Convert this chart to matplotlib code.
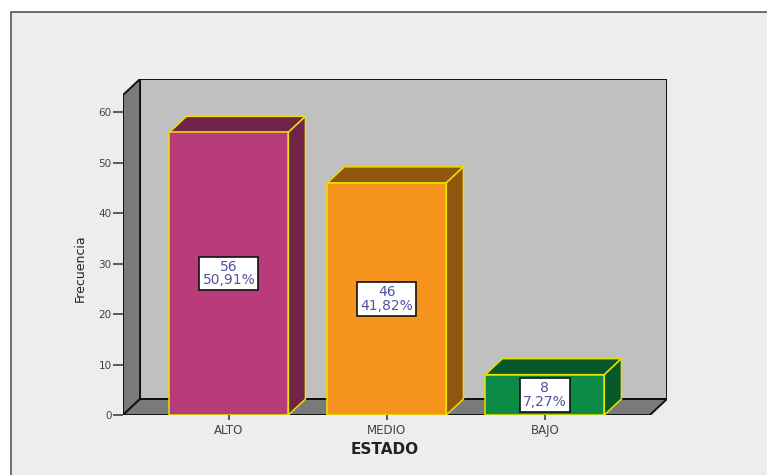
import matplotlib.pyplot as plt
from matplotlib.patches import Polygon, Rectangle

plt.rcParams['font.family'] = ['DejaVu Sans']

estados = ['ALTO', 'MEDIO', 'BAJO']
frecuencias = [56, 46, 8]
colores = ['#B83C7A', '#F7941E', '#0B8B45']
colores_lado = ['#722448', '#90560F', '#07592A']

total = sum(frecuencias)
x = list(range(len(estados)))
ancho = 0.753
dx, dy = 0.108, 3.17          # desplazamiento para el efecto 3D
x0, x1, ytop = -0.67, 2.665, 63.4

fig = plt.figure(figsize=(7.67, 4.75), dpi=100)
fig.patch.set_facecolor('white')
# recuadro gris del visor
fig.add_artist(Rectangle((11 / 767, -0.1), 1.2, 1.1 - 12 / 475,
                         transform=fig.transFigure, facecolor='#EDEDED',
                         edgecolor='#555555', lw=1.2, zorder=-5))

ax = fig.add_axes([123 / 767, 60 / 475, 544 / 767, 336 / 475])
ax.set_xlim(x0, x1 + dx)
ax.set_ylim(0, ytop + dy)
ax.patch.set_visible(False)
for s in ax.spines.values():
    s.set_visible(False)

# paredes: fondo, lateral izquierda y suelo
ax.add_patch(Polygon([(x0 + dx, dy), (x1 + dx, dy), (x1 + dx, ytop + dy), (x0 + dx, ytop + dy)],
                     closed=True, facecolor='#C0C0C0', edgecolor='#111111', lw=1.4, zorder=1))
ax.add_patch(Polygon([(x0, 0), (x0 + dx, dy), (x0 + dx, ytop + dy), (x0, ytop)],
                     closed=True, facecolor='#7A7A7A', edgecolor='#111111', lw=1.4, zorder=1))
ax.add_patch(Polygon([(x0, 0), (x1, 0), (x1 + dx, dy), (x0 + dx, dy)],
                     closed=True, facecolor='#7A7A7A', edgecolor='#111111', lw=1.4, zorder=1))

# barras con cara frontal, lateral y superior
ax.bar(x, frecuencias, width=ancho, color=colores, edgecolor='#E8E000', lw=1.1, zorder=4)
for xi, h, cl in zip(x, frecuencias, colores_lado):
    izq, der = xi - ancho / 2, xi + ancho / 2
    ax.add_patch(Polygon([(izq, h), (der, h), (der + dx, h + dy), (izq + dx, h + dy)],
                         closed=True, facecolor=cl, edgecolor='#E8E000', lw=1.1, zorder=3))
    ax.add_patch(Polygon([(der, 0), (der + dx, dy), (der + dx, h + dy), (der, h)],
                         closed=True, facecolor=cl, edgecolor='#E8E000', lw=1.1, zorder=3))
    pct = f'{h / total * 100:.2f}%'.replace('.', ',')
    ax.text(xi, h / 2, f'{h}\n{pct}', ha='center', va='center', fontsize=10,
            color='#52529E', linespacing=0.95, zorder=5,
            bbox=dict(boxstyle='square,pad=0.22', facecolor='white', edgecolor='#111111', lw=1.2))

ax.set_yticks(range(0, 61, 10))
ax.set_xticks(x)
ax.set_xticklabels(estados)
ax.tick_params(axis='y', direction='out', length=7.2, width=1.1, color='#333333',
               labelsize=7.5, labelcolor='#444444', pad=1)
ax.tick_params(axis='x', direction='out', length=3.6, width=1.1, color='#333333',
               labelsize=8.5, labelcolor='#444444', pad=3)

ax.set_ylabel('Frecuencia', fontsize=9, color='#222222')
ax.yaxis.set_label_coords(-0.066, 0.4375)
ax.set_xlabel('ESTADO', fontsize=11, fontweight='bold', color='#222222')
ax.xaxis.set_label_coords(0.4816, -0.08)

plt.savefig('out.png', dpi=100)
